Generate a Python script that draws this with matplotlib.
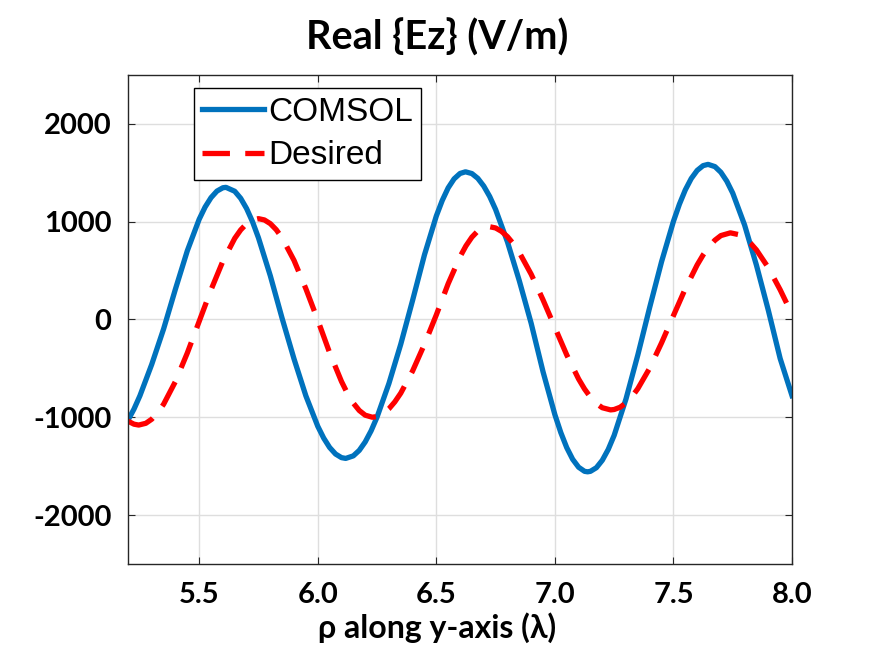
import matplotlib
matplotlib.use("Agg")
import matplotlib.pyplot as plt

# ===== 数据 =====
x_comsol = [5.20, 5.225, 5.25, 5.30, 5.35, 5.40, 5.45, 5.50, 5.525, 5.55, 5.575,
            5.60, 5.613, 5.65, 5.675, 5.70, 5.725, 5.75, 5.80, 5.85, 5.90, 5.95,
            6.00, 6.025, 6.05, 6.075, 6.10, 6.118, 6.15, 6.175, 6.20, 6.225,
            6.25, 6.30, 6.35, 6.40, 6.45, 6.50, 6.525, 6.55, 6.575, 6.60, 6.623,
            6.65, 6.675, 6.70, 6.725, 6.75, 6.80, 6.85, 6.90, 6.95, 7.00, 7.025,
            7.05, 7.075, 7.10, 7.125, 7.138, 7.15, 7.175, 7.20, 7.225, 7.25,
            7.30, 7.35, 7.40, 7.45, 7.50, 7.525, 7.55, 7.575, 7.60, 7.625, 7.646,
            7.675, 7.70, 7.725, 7.75, 7.80, 7.85, 7.90, 7.95, 8.00]
y_comsol = [-1030, -917, -781, -459, -97, 311, 702, 1024, 1149, 1245, 1312,
            1346, 1350, 1310, 1238, 1133, 998, 834, 446, 9, -404, -782,
            -1092, -1213, -1309, -1376, -1413, -1421, -1395, -1339, -1253, -1139,
            -999, -656, -254, 195, 660, 1057, 1216, 1345, 1437, 1492, 1509,
            1491, 1442, 1363, 1257, 1124, 792, 395, -40, -535, -974, -1157,
            -1311, -1430, -1511, -1553, -1558, -1553, -1516, -1440, -1329, -1185,
            -812, -361, 125, 591, 1003, 1177, 1324, 1440, 1523, 1572, 1585,
            1562, 1504, 1413, 1291, 965, 554, 94, -400, -780]

x_desired = [5.20, 5.225, 5.245, 5.275, 5.30, 5.325, 5.35, 5.40, 5.45, 5.50, 5.55,
             5.60, 5.65, 5.675, 5.70, 5.725, 5.75, 5.775, 5.80, 5.825, 5.85, 5.90,
             5.95, 6.00, 6.05, 6.10, 6.125, 6.15, 6.175, 6.20, 6.23, 6.25, 6.275,
             6.30, 6.325, 6.35, 6.40, 6.45, 6.50, 6.55, 6.60, 6.625, 6.65, 6.675,
             6.70, 6.72, 6.75, 6.775, 6.80, 6.825, 6.85, 6.90, 6.95, 7.00, 7.05,
             7.10, 7.125, 7.15, 7.175, 7.20, 7.235, 7.25, 7.275, 7.30, 7.325, 7.35,
             7.40, 7.45, 7.50, 7.55, 7.60, 7.625, 7.65, 7.675, 7.70, 7.74, 7.775,
             7.80, 7.825, 7.85, 7.90, 7.95, 8.00]
y_desired = [-1040, -1071, -1080, -1062, -1020, -954, -867, -634, -343, -20, 303,
             596, 829, 915, 978, 1017, 1030, 1017, 979, 917, 832, 603,
             313, -6, -340, -634, -756, -856, -931, -979, -1000, -993, -964,
             -914, -843, -754, -527, -254, 46, 365, 641, 752, 841, 904,
             941, 950, 935, 900, 846, 773, 684, 462, 200, -82, -363,
             -609, -711, -795, -860, -903, -925, -921, -898, -853, -790, -707,
             -497, -239, 39, 314, 557, 659, 744, 810, 857, 885, 867,
             832, 779, 710, 529, 303, 52]

x_ticks = [5.5, 6.0, 6.5, 7.0, 7.5, 8.0]
y_ticks = [-2000, -1000, 0, 1000, 2000]

# ===== 风格 =====
plt.rcParams['font.family'] = ['Lato', 'DejaVu Sans']

fig = plt.figure(figsize=(8.74, 6.55), dpi=100)
ax = fig.add_axes([0.1465, 0.139, 0.7597, 0.7467])

ax.plot(x_comsol, y_comsol, color='#0072BD', linewidth=3.8, label='COMSOL')
ax.plot(x_desired, y_desired, color='#FF0000', linewidth=3.8,
        linestyle=(0, (5.2, 2.9)), dash_capstyle='butt', label='Desired')

ax.set_xlim(5.2, 8.0)
ax.set_ylim(-2500, 2500)
ax.set_xticks(x_ticks)
ax.set_xticklabels([f"{t:.1f}" for t in x_ticks])
ax.set_yticks(y_ticks)
ax.set_yticklabels([str(t) for t in y_ticks])

ax.grid(True, color='#dedede', linewidth=1.0)
ax.set_axisbelow(True)
for s in ax.spines.values():
    s.set_color('#262626')
    s.set_linewidth(1.0)
ax.tick_params(direction='in', length=5, width=0.8, color='#262626',
               top=True, right=True, labelsize=21)
ax.tick_params(axis='y', pad=12)
ax.tick_params(axis='x', pad=13)
for lab in ax.get_xticklabels() + ax.get_yticklabels():
    lab.set_fontweight('bold')

# 标题和x轴标签按整幅图居中
ax.set_xlabel("ρ along y-axis (λ)", fontsize=23, fontweight='bold')
ax.xaxis.set_label_coords(0.465, -0.099, transform=ax.transAxes)
ax.xaxis.label.set_verticalalignment('top')
fig.text(0.5, 0.942, "Real {Ez} (V/m)", fontsize=28.5, fontweight='bold',
         ha='center', va='center')

leg = ax.legend(loc='upper left', bbox_to_anchor=(0.0994, 0.9724),
                prop={'family': 'Liberation Sans', 'size': 24},
                handlelength=1.85, handletextpad=0.12, borderpad=0.25,
                labelspacing=0.38, borderaxespad=0, fancybox=False,
                framealpha=1, edgecolor='black')
leg.get_frame().set_linewidth(1.0)

plt.savefig("out.png", dpi=100)
